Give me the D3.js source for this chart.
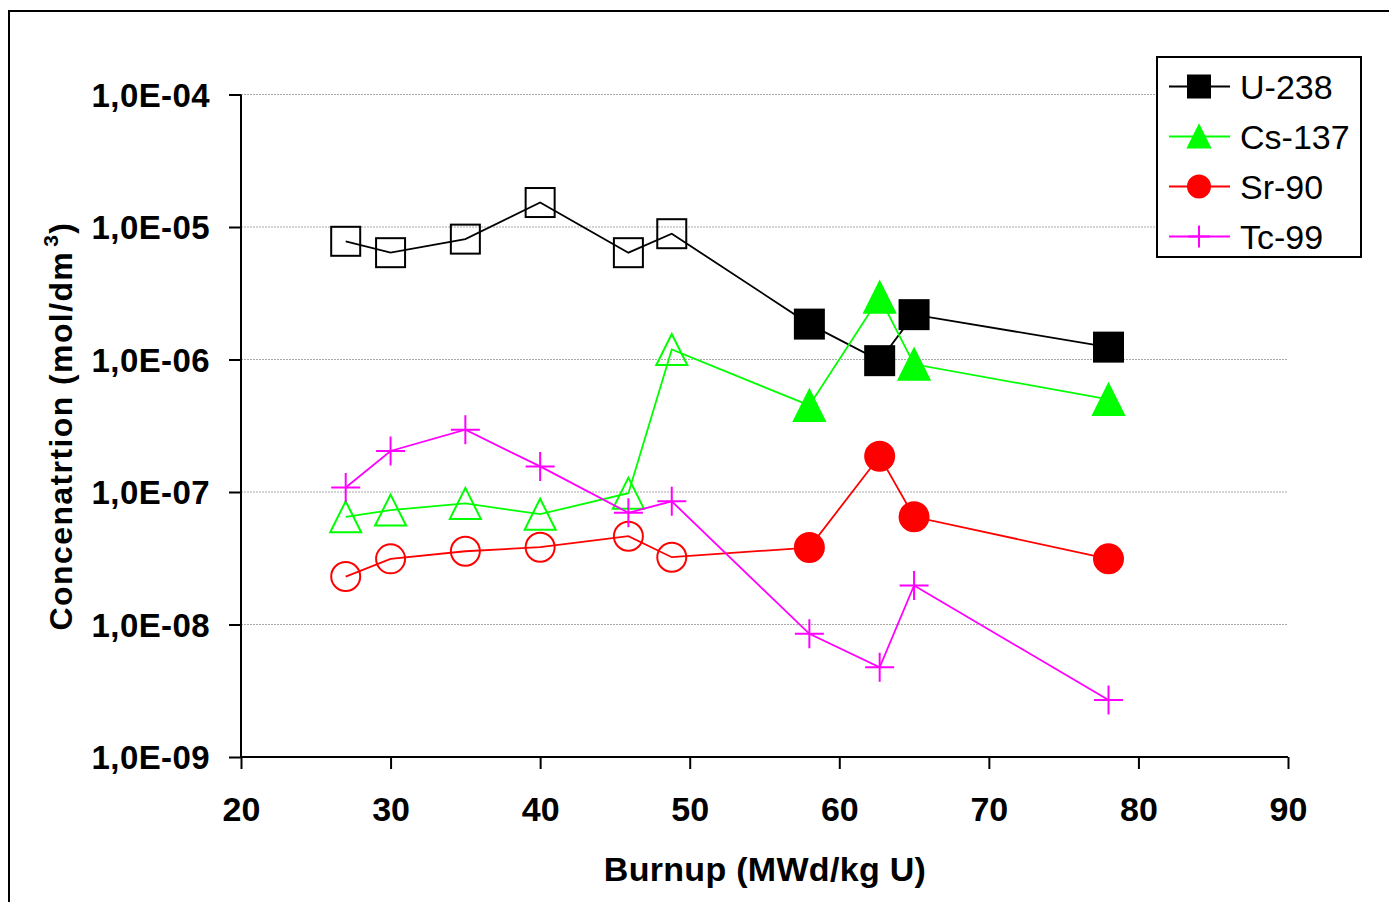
<!DOCTYPE html>
<html><head><meta charset="utf-8">
<script src="https://cdn.jsdelivr.net/npm/d3@7"></script>
<style>html,body{margin:0;padding:0;background:#fff;}svg{display:block;}</style>
</head><body>
<svg id="chart" width="1389" height="902"></svg>
<script>
// ---- data ----
const burnup   = [27, 30, 35, 40, 45.9, 48.8, 58, 62.7, 65, 78];
const u238     = [7.8e-6, 6.4e-6, 8.1e-6, 1.53e-5, 6.4e-6, 8.9e-6, 1.85e-6, 9.8e-7, 2.18e-6, 1.24e-6];
const cs137    = [6.5e-8, 7.3e-8, 8.2e-8, 6.8e-8, 9.8e-8, 1.19e-6, 4.5e-7, 2.95e-6, 9.2e-7, 5.0e-7];
const sr90     = [2.3e-8, 3.13e-8, 3.57e-8, 3.83e-8, 4.64e-8, 3.22e-8, 3.81e-8, 1.86e-7, 6.5e-8, 3.13e-8];
const tc99     = [1.08e-7, 2.04e-7, 2.95e-7, 1.56e-7, 6.97e-8, 8.5e-8, 8.5e-9, 4.75e-9, 1.97e-8, 2.69e-9];
const markerFill = ["open","open","open","open","open","open","filled","filled","filled","filled"];
const seriesNames = ["U-238", "Cs-137", "Sr-90", "Tc-99"];
const seriesColors = ["#000000", "#00ff00", "#ff0000", "#ff00ff"];
const seriesShapes = ["square", "triangle", "circle", "plus"];
const xTicks = [20, 30, 40, 50, 60, 70, 80, 90];
const yTicks = [1e-9, 1e-8, 1e-7, 1e-6, 1e-5, 1e-4];
const xTitle = "Burnup (MWd/kg U)";

const seriesValues = [u238, cs137, sr90, tc99];

const svg = d3.select("#chart");
const font = "'Liberation Sans', Arial, sans-serif";

// outer frame
svg.append("rect").attr("x", 9).attr("y", 11).attr("width", 1400).attr("height", 910)
  .attr("fill", "none").attr("stroke", "#000").attr("stroke-width", 2);

const x = d3.scaleLinear().domain([20, 90]).range([241, 1288]);
const y = d3.scaleLog().domain([1e-9, 1e-4]).range([757, 94.5]);

// gridlines
svg.append("g").selectAll("line").data(yTicks.slice(1)).join("line")
  .attr("x1", x(20)).attr("x2", x(90))
  .attr("y1", d => y(d)).attr("y2", d => y(d))
  .attr("stroke", "#a8a8a8").attr("stroke-width", 1).attr("stroke-dasharray", "2,1");

const fmtY = d => {
  const e = Math.round(Math.log10(d));
  const s = Math.abs(e).toString().padStart(2, "0");
  return "1,0E" + (e < 0 ? "-" : "+") + s;
};

// y axis
const yAxis = d3.axisLeft(y).tickValues(yTicks).tickFormat(fmtY).tickSize(12).tickPadding(19);
const gy = svg.append("g").attr("transform", `translate(${x(20)},0)`).call(yAxis);
gy.select(".domain").attr("stroke-width", 2).attr("d", `M0,${y(1e-9)}V${y(1e-4)}`);
gy.selectAll(".tick line").attr("stroke-width", 2);
gy.selectAll(".tick text").attr("font-family", font).attr("font-weight", "bold")
  .attr("font-size", 33).attr("letter-spacing", 0.4).attr("fill", "#000").attr("dy", "0.36em");

// x axis
const xAxis = d3.axisBottom(x).tickValues(xTicks).tickFormat(d3.format("d")).tickSize(12).tickPadding(28);
const gx = svg.append("g").attr("transform", `translate(0,${y(1e-9)})`).call(xAxis);
gx.select(".domain").attr("stroke-width", 2).attr("d", `M${x(20)},0H${x(90)}`);
gx.selectAll(".tick line").attr("stroke-width", 2);
gx.selectAll(".tick text").attr("font-family", font).attr("font-weight", "bold")
  .attr("font-size", 34).attr("fill", "#000");

// axis titles
svg.append("text").attr("x", 765).attr("y", 881).attr("text-anchor", "middle")
  .attr("font-family", font).attr("font-weight", "bold").attr("font-size", 34)
  .attr("letter-spacing", 0.3).text(xTitle);

const yt = svg.append("text").attr("transform", "translate(72,426) rotate(-90)")
  .attr("text-anchor", "middle").attr("font-family", font).attr("font-weight", "bold")
  .attr("font-size", 32).attr("letter-spacing", 1.4);
yt.append("tspan").text("Concenatrtion (mol/dm");
yt.append("tspan").attr("font-size", 21).attr("dx", 4).attr("dy", -14).text("3");
yt.append("tspan").attr("dy", 14).text(")");

// marker drawing
function drawMarker(g, shape, cx, cy, s, color, filled) {
  const h = s / 2;
  if (shape === "square") {
    g.append("rect").attr("x", cx - h).attr("y", cy - h).attr("width", s).attr("height", s)
      .attr("fill", filled ? color : "none").attr("stroke", color).attr("stroke-width", 2);
  } else if (shape === "triangle") {
    g.append("path").attr("d", `M${cx},${cy - h}L${cx + h},${cy + h}L${cx - h},${cy + h}Z`)
      .attr("fill", filled ? color : "none").attr("stroke", color).attr("stroke-width", 2);
  } else if (shape === "circle") {
    g.append("circle").attr("cx", cx).attr("cy", cy).attr("r", h)
      .attr("fill", filled ? color : "none").attr("stroke", color).attr("stroke-width", 2);
  } else {
    g.append("path").attr("d", `M${cx - h},${cy}H${cx + h}M${cx},${cy - h}V${cy + h}`)
      .attr("fill", "none").attr("stroke", color).attr("stroke-width", 2);
  }
}

const line = d3.line().x(d => x(d[0])).y(d => y(d[1]));
const sizes = {square: 29, triangle: 31, circle: 29, plus: 29};

seriesValues.forEach((vals, i) => {
  const pts = burnup.map((b, j) => [b, vals[j]]);
  const g = svg.append("g");
  g.append("path").datum(pts).attr("d", line).attr("fill", "none")
    .attr("stroke", seriesColors[i]).attr("stroke-width", 1.8);
  pts.forEach((p, j) => drawMarker(g, seriesShapes[i], x(p[0]), y(p[1]), sizes[seriesShapes[i]],
    seriesColors[i], markerFill[j] === "filled"));
});

// legend
const lg = svg.append("g");
lg.append("rect").attr("x", 1157).attr("y", 57).attr("width", 204).attr("height", 200)
  .attr("fill", "#fff").attr("stroke", "#000").attr("stroke-width", 2);
seriesNames.forEach((n, i) => {
  const cy = 86.5 + i * 50;
  lg.append("line").attr("x1", 1169).attr("x2", 1230).attr("y1", cy).attr("y2", cy)
    .attr("stroke", seriesColors[i]).attr("stroke-width", 1.8);
  drawMarker(lg, seriesShapes[i], 1199, cy, 22, seriesColors[i], true);
  lg.append("text").attr("x", 1240).attr("y", cy).attr("dy", "0.36em")
    .attr("font-family", font).attr("font-size", 34).text(n);
});
</script>
</body></html>
